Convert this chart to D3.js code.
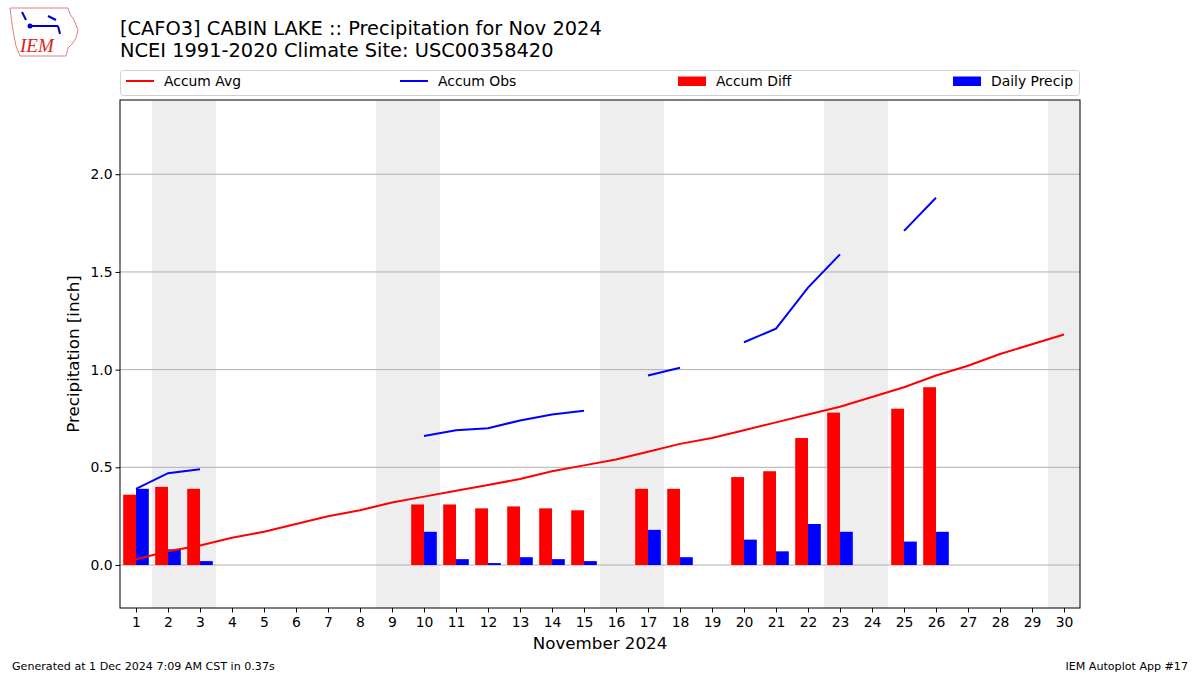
<!DOCTYPE html>
<html><head><meta charset="utf-8">
<script src="https://cdn.jsdelivr.net/npm/d3@7"></script>
<style>
body{margin:0;background:#fff;}
svg{font-family:"DejaVu Sans",sans-serif;}
</style></head>
<body>
<svg id="c" width="1200" height="675"></svg>
<script>
const days = d3.range(1, 31);
const accumAvg = [0.03,0.07,0.10,0.14,0.17,0.21,0.25,0.28,0.32,0.35,0.38,0.41,0.44,0.48,0.51,0.54,0.58,0.62,0.65,0.69,0.73,0.77,0.81,0.86,0.91,0.97,1.02,1.08,1.13,1.18];
const accumObs = [0.39,0.47,0.49,null,null,null,null,null,null,0.66,0.69,0.70,0.74,0.77,0.79,null,0.97,1.01,null,1.14,1.21,1.42,1.59,null,1.71,1.88,null,null,null,null];
const accumDiff = [0.36,0.40,0.39,null,null,null,null,null,null,0.31,0.31,0.29,0.30,0.29,0.28,null,0.39,0.39,null,0.45,0.48,0.65,0.78,null,0.80,0.91,null,null,null,null];
const dailyPrecip = [0.39,0.08,0.02,null,null,null,null,null,null,0.17,0.03,0.01,0.04,0.03,0.02,null,0.18,0.04,null,0.13,0.07,0.21,0.17,null,0.12,0.17,null,null,null,null];
const weekendDays = [2,3,9,10,16,17,23,24,30];
const yTicks = [0.0,0.5,1.0,1.5,2.0];
const titleLines = ["[CAFO3] CABIN LAKE :: Precipitation for Nov 2024","NCEI 1991-2020 Climate Site: USC00358420"];
const legendItems = [
  {label:"Accum Avg", type:"line", color:"#ff0000"},
  {label:"Accum Obs", type:"line", color:"#0000ff"},
  {label:"Accum Diff", type:"rect", color:"#ff0000"},
  {label:"Daily Precip", type:"rect", color:"#0000ff"}
];

const svg = d3.select("#c");
const L=120, R=1080, T=100, B=608;
const x = d3.scaleLinear().domain([0.5,30.5]).range([L,R]);
const y = d3.scaleLinear().domain([-0.22,2.38]).range([B,T]);

// weekend shading
svg.append("g").selectAll("rect").data(weekendDays).join("rect")
  .attr("x", d=>x(d-0.5)).attr("width", d=>x(d+0.5)-x(d-0.5))
  .attr("y", T).attr("height", B-T).attr("fill","#eeeeee");

// grid
svg.append("g").selectAll("line").data(yTicks).join("line")
  .attr("x1",L).attr("x2",R).attr("y1",d=>y(d)).attr("y2",d=>y(d))
  .attr("stroke","#b0b0b0").attr("stroke-width",1);

// bars
const bw = 0.4;
svg.append("g").selectAll("rect").data(days.filter((d,i)=>accumDiff[i]!=null)).join("rect")
  .attr("x", d=>x(d-bw)).attr("width", d=>x(d)-x(d-bw))
  .attr("y", d=>y(accumDiff[d-1])).attr("height", d=>y(0)-y(accumDiff[d-1]))
  .attr("fill","#ff0000");
svg.append("g").selectAll("rect").data(days.filter((d,i)=>dailyPrecip[i]!=null)).join("rect")
  .attr("x", d=>x(d)).attr("width", d=>x(d+bw)-x(d))
  .attr("y", d=>y(dailyPrecip[d-1])).attr("height", d=>y(0)-y(dailyPrecip[d-1]))
  .attr("fill","#0000ff");

// lines
const lineAvg = d3.line().x((v,i)=>x(days[i])).y(v=>y(v));
svg.append("path").attr("d", lineAvg(accumAvg)).attr("fill","none").attr("stroke","#ff0000").attr("stroke-width",2);
const lineObs = d3.line().defined(v=>v!=null).x((v,i)=>x(days[i])).y(v=>y(v));
svg.append("path").attr("d", lineObs(accumObs)).attr("fill","none").attr("stroke","#0000ff").attr("stroke-width",2);

// axes
const xAxis = d3.axisBottom(x).tickValues(days).tickFormat(d3.format("d")).tickSizeOuter(0).tickSize(4.5);
const gx = svg.append("g").attr("transform",`translate(0,${B})`).call(xAxis);
gx.select(".domain").remove();
gx.selectAll("text").attr("font-size","13.9px").attr("font-family","DejaVu Sans").attr("fill","#000").attr("dy","0.85em");
gx.selectAll("line").attr("stroke","#000");
const yAxis = d3.axisLeft(y).tickValues(yTicks).tickFormat(d3.format(".1f")).tickSizeOuter(0).tickSize(4.5);
const gy = svg.append("g").attr("transform",`translate(${L},0)`).call(yAxis);
gy.select(".domain").remove();
gy.selectAll("text").attr("font-size","13.9px").attr("font-family","DejaVu Sans").attr("fill","#000");
gy.selectAll("line").attr("stroke","#000");

svg.append("rect").attr("x",L).attr("y",T).attr("width",R-L).attr("height",B-T)
  .attr("fill","none").attr("stroke","#000").attr("stroke-width",1);

// axis labels
svg.append("text").attr("x",(L+R)/2).attr("y",649).attr("text-anchor","middle")
  .attr("font-size","16.7px").text("November 2024");
svg.append("text").attr("transform",`translate(79,${(T+B)/2}) rotate(-90)`).attr("text-anchor","middle")
  .attr("font-size","16.7px").text("Precipitation [inch]");

// titles
svg.selectAll("text.title").data(titleLines).join("text").attr("class","title")
  .attr("x",120).attr("y",(d,i)=>35+i*22).attr("font-size","19.4px").text(d=>d);

// legend
const lg = svg.append("g");
lg.append("rect").attr("x",120.5).attr("y",70.5).attr("width",959).attr("height",25).attr("rx",3)
  .attr("fill","#fff").attr("stroke","#d0d0d0");
const lx = [126, 400, 678, 953];
legendItems.forEach((it,i)=>{
  if(it.type==="line"){
    lg.append("line").attr("x1",lx[i]).attr("x2",lx[i]+28).attr("y1",81).attr("y2",81)
      .attr("stroke",it.color).attr("stroke-width",2);
  } else {
    lg.append("rect").attr("x",lx[i]).attr("y",76.5).attr("width",28).attr("height",9.5).attr("fill",it.color);
  }
  lg.append("text").attr("x",lx[i]+38).attr("y",86).attr("font-size","13.9px").text(it.label);
});

// footer
svg.append("text").attr("x",12).attr("y",670).attr("font-size","11.1px").text("Generated at 1 Dec 2024 7:09 AM CST in 0.37s");
svg.append("text").attr("x",1188).attr("y",670).attr("text-anchor","end").attr("font-size","11.1px").text("IEM Autoplot App #17");

// logo
const logo = svg.append("g");
logo.append("path").attr("d","M10,8 L68,8 L70,14 L74,20 L78,30 L76,38 L72,44 L68,48 L66,56 L20,56 L16,46 L14,36 L12,24 Z")
  .attr("fill","#fff").attr("stroke","#e08080").attr("stroke-width",1);
logo.append("path").attr("d","M30,26 L58,26 M22,12 L26,20 M48,16 L56,20 M58,26 L60,34")
  .attr("stroke","#0000cc").attr("stroke-width",2).attr("fill","none");
logo.append("circle").attr("cx",30).attr("cy",26).attr("r",2.5).attr("fill","#0000cc");
logo.append("text").attr("x",20).attr("y",52).attr("font-family","Liberation Serif").attr("font-style","italic")
  .attr("font-size","19px").attr("fill","#dd2222").text("IEM");
</script>
</body></html>
